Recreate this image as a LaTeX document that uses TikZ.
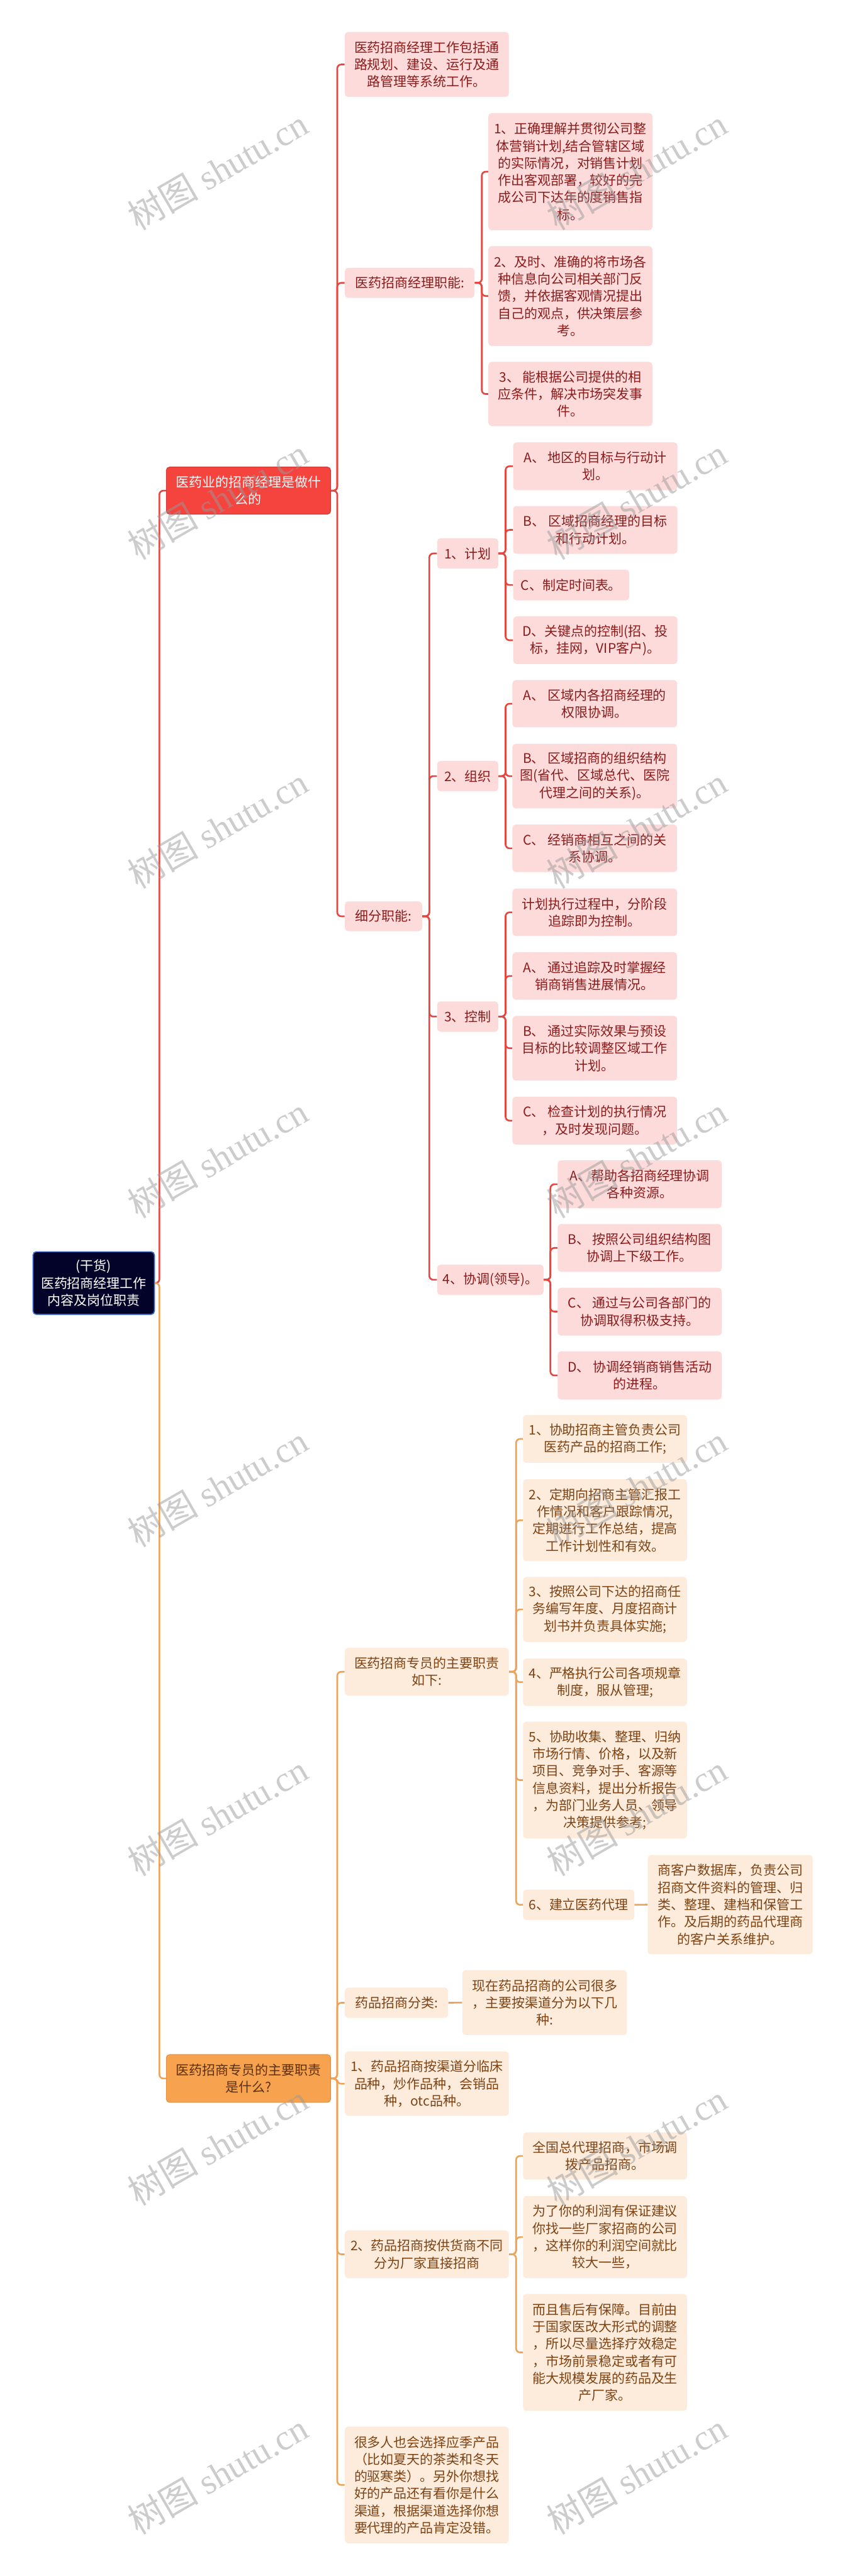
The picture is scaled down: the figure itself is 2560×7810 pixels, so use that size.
\documentclass[tikz,border=0pt]{standalone}
\usepackage{fontspec}
\setmainfont{Noto Sans CJK SC}
\newfontfamily\wmlatin{Liberation Serif}
\usetikzlibrary{calc}
\definecolor{pinkfill}{HTML}{FCDBDA}
\definecolor{redtext}{HTML}{8A1C1C}
\definecolor{peachfill}{HTML}{FDEBDC}
\definecolor{browntext}{HTML}{7D4313}
\definecolor{redline}{HTML}{E8453F}
\definecolor{orangeline}{HTML}{F0A356}
\definecolor{redfill}{HTML}{F5433E}
\definecolor{orangefill}{HTML}{F6A24E}
\definecolor{darkbrown}{HTML}{5C300C}
\definecolor{rootfill}{HTML}{03032A}
\definecolor{rootborder}{HTML}{3D6FCB}
\definecolor{wmgray}{HTML}{9A9A9A}
\tikzset{
  basebox/.style={inner sep=0pt, align=center, rounded corners=2.5pt, font=\fontsize{10}{13}\selectfont},
  pinkbox/.style={basebox, fill=pinkfill, text=redtext},
  peachbox/.style={basebox, fill=peachfill, text=browntext},
  redbox/.style={basebox, fill=redfill, draw=redfill!85!black, line width=0.5pt, text=white},
  orangebox/.style={basebox, fill=orangefill, draw=orangefill!90!black, line width=0.5pt, text=darkbrown},
  rootbox/.style={basebox, fill=rootfill, draw=rootborder, line width=0.8pt, text=white},
  redlink/.style={draw=redline, line width=1.25pt, rounded corners=3pt},
  orangelink/.style={draw=orangeline, line width=1.25pt, rounded corners=3pt},
  wmark/.style={text=wmgray, text opacity=0.5, font=\fontsize{27}{27}\selectfont, rotate=30, inner sep=0pt}
}
\newcommand\bx[7]{\node[#2, minimum width={(#5-#3)*0.25pt}, minimum height={(#6-#4)*0.25pt}] (#1) at ({(#3+#5)/2},{(#4+#6)/2}) {#7};}
\newcommand\fan[4]{\foreach \cc in {#4}{\draw[#1] (#2.east) -- (#2.east -| #3) |- (\cc.west);}}
\begin{document}
\begin{tikzpicture}[x=0.25pt,y=-0.25pt]
\fill[white] (0,0) rectangle (2560,7810);
\useasboundingbox (0,0) rectangle (2560,7810);
% spine coordinates
\coordinate (SR) at (483,0);
\coordinate (S1) at (1022,0);
\coordinate (S2) at (1460,0);
\coordinate (S3) at (1301,0);
\coordinate (S4) at (1532,0);
\coordinate (S5) at (1668,0);
\coordinate (S6) at (1564,0);
% root and main branches
\bx{root}{rootbox}{100}{3795}{468}{3985}{(干货)\\医药招商经理工作\\内容及岗位职责}
\bx{b1}{redbox}{504}{1416}{1002}{1559}{医药业的招商经理是做什\\么的}
\bx{b2}{orangebox}{504}{6229}{1002}{6374}{医药招商专员的主要职责\\是什么?}
% branch 1
\bx{a1}{pinkbox}{1045}{97}{1542}{294}{医药招商经理工作包括通\\路规划、建设、运行及通\\路管理等系统工作。}
\bx{a2}{pinkbox}{1045}{812}{1438}{903}{医药招商经理职能:}
\bx{a2x}{pinkbox}{1480}{343}{1977}{698}{1、正确理解并贯彻公司整\\体营销计划,结合管辖区域\\的实际情况，对销售计划\\作出客观部署，较好的完\\成公司下达年的度销售指\\标。}
\bx{a2y}{pinkbox}{1480}{746}{1977}{1049}{2、及时、准确的将市场各\\种信息向公司相关部门反\\馈，并依据客观情况提出\\自己的观点，供决策层参\\考。}
\bx{a2z}{pinkbox}{1480}{1097}{1977}{1292}{3、 能根据公司提供的相\\应条件，解决市场突发事\\件。}
\bx{a3}{pinkbox}{1045}{2733}{1279}{2823}{细分职能:}
\bx{p1}{pinkbox}{1325}{1632}{1510}{1724}{1、计划}
\bx{p1a}{pinkbox}{1555}{1341}{2053}{1486}{A、 地区的目标与行动计\\划。}
\bx{p1b}{pinkbox}{1555}{1534}{2053}{1679}{B、 区域招商经理的目标\\和行动计划。}
\bx{p1c}{pinkbox}{1555}{1727}{1907}{1820}{C、制定时间表。}
\bx{p1d}{pinkbox}{1555}{1869}{2053}{2013}{D、关键点的控制(招、投\\标，挂网，VIP客户)。}
\bx{p2}{pinkbox}{1325}{2307}{1510}{2399}{2、组织}
\bx{p2a}{pinkbox}{1553}{2062}{2052}{2205}{A、 区域内各招商经理的\\权限协调。}
\bx{p2b}{pinkbox}{1553}{2255}{2052}{2451}{B、 区域招商的组织结构\\图(省代、区域总代、医院\\代理之间的关系)。}
\bx{p2c}{pinkbox}{1553}{2500}{2052}{2644}{C、 经销商相互之间的关\\系协调。}
\bx{p3}{pinkbox}{1325}{3036}{1510}{3128}{3、控制}
\bx{p3a}{pinkbox}{1553}{2694}{2052}{2838}{计划执行过程中，分阶段\\追踪即为控制。}
\bx{p3b}{pinkbox}{1553}{2887}{2052}{3031}{A、 通过追踪及时掌握经\\销商销售进展情况。}
\bx{p3c}{pinkbox}{1553}{3080}{2052}{3276}{B、 通过实际效果与预设\\目标的比较调整区域工作\\计划。}
\bx{p3d}{pinkbox}{1553}{3325}{2052}{3470}{C、 检查计划的执行情况\\，及时发现问题。}
\bx{p4}{pinkbox}{1325}{3834}{1647}{3926}{4、协调(领导)。}
\bx{p4a}{pinkbox}{1690}{3518}{2187}{3663}{A、帮助各招商经理协调\\各种资源。}
\bx{p4b}{pinkbox}{1690}{3711}{2187}{3856}{B、 按照公司组织结构图\\协调上下级工作。}
\bx{p4c}{pinkbox}{1690}{3904}{2187}{4049}{C、 通过与公司各部门的\\协调取得积极支持。}
\bx{p4d}{pinkbox}{1690}{4097}{2187}{4243}{D、 协调经销商销售活动\\的进程。}
% branch 2
\bx{q1}{peachbox}{1045}{4996}{1542}{5141}{医药招商专员的主要职责\\如下:}
\bx{q1a}{peachbox}{1585}{4290}{2082}{4435}{1、协助招商主管负责公司\\医药产品的招商工作;}
\bx{q1b}{peachbox}{1585}{4485}{2082}{4733}{2、定期向招商主管汇报工\\作情况和客户跟踪情况,\\定期进行工作总结，提高\\工作计划性和有效。}
\bx{q1c}{peachbox}{1585}{4781}{2082}{4978}{3、按照公司下达的招商任\\务编写年度、月度招商计\\划书并负责具体实施;}
\bx{q1d}{peachbox}{1585}{5028}{2082}{5172}{4、严格执行公司各项规章\\制度，服从管理;}
\bx{q1e}{peachbox}{1585}{5220}{2082}{5574}{5、协助收集、整理、归纳\\市场行情、价格，以及新\\项目、竞争对手、客源等\\信息资料，提出分析报告\\，为部门业务人员、领导\\决策提供参考;}
\bx{q1f}{peachbox}{1585}{5729}{1922}{5821}{6、建立医药代理}
\bx{q1g}{peachbox}{1963}{5624}{2463}{5925}{商客户数据库，负责公司\\招商文件资料的管理、归\\类、整理、建档和保管工\\作。及后期的药品代理商\\的客户关系维护。}
\bx{q2}{peachbox}{1045}{6026}{1358}{6118}{药品招商分类:}
\bx{q2a}{peachbox}{1401}{5973}{1900}{6170}{现在药品招商的公司很多\\，主要按渠道分为以下几\\种:}
\bx{q3}{peachbox}{1045}{6220}{1542}{6415}{1、药品招商按渠道分临床\\品种，炒作品种，会销品\\种，otc品种。}
\bx{q4}{peachbox}{1045}{6762}{1542}{6907}{2、药品招商按供货商不同\\分为厂家直接招商}
\bx{q4a}{peachbox}{1585}{6465}{2082}{6608}{全国总代理招商，市场调\\拨产品招商。}
\bx{q4b}{peachbox}{1585}{6658}{2082}{6907}{为了你的利润有保证建议\\你找一些厂家招商的公司\\，这样你的利润空间就比\\较大一些，}
\bx{q4c}{peachbox}{1585}{6955}{2082}{7309}{而且售后有保障。目前由\\于国家医改大形式的调整\\，所以尽量选择疗效稳定\\，市场前景稳定或者有可\\能大规模发展的药品及生\\产厂家。}
\bx{q5}{peachbox}{1045}{7357}{1542}{7711}{很多人也会选择应季产品\\（比如夏天的茶类和冬天\\的驱寒类）。另外你想找\\好的产品还有看你是什么\\渠道，根据渠道选择你想\\要代理的产品肯定没错。}
% connectors: red
\fan{redlink}{root}{SR}{b1}
\fan{redlink}{b1}{S1}{a1,a2,a3}
\fan{redlink}{a2}{S2}{a2x,a2y,a2z}
\fan{redlink}{a3}{S3}{p1,p2,p3,p4}
\fan{redlink}{p1}{S4}{p1a,p1b,p1c,p1d}
\fan{redlink}{p2}{S4}{p2a,p2b,p2c}
\fan{redlink}{p3}{S4}{p3a,p3b,p3c,p3d}
\fan{redlink}{p4}{S5}{p4a,p4b,p4c,p4d}
% connectors: orange
\fan{orangelink}{root}{SR}{b2}
\fan{orangelink}{b2}{S1}{q1,q2,q3,q4,q5}
\fan{orangelink}{q1}{S6}{q1a,q1b,q1c,q1d,q1e,q1f}
\draw[orangelink] (q1f.east) -- (q1g.west);
\draw[orangelink] (q2.east) -- (q2a.west);
\fan{orangelink}{q4}{S6}{q4a,q4b,q4c}
% watermarks
\foreach \k in {0,...,7}{
  \node[wmark] (wl\k) at (660,515+998*\k) {树图 {\wmlatin shutu.cn}};
  \node[wmark] (wr\k) at (1930,515+998*\k) {树图 {\wmlatin shutu.cn}};
}
\end{tikzpicture}
\end{document}
